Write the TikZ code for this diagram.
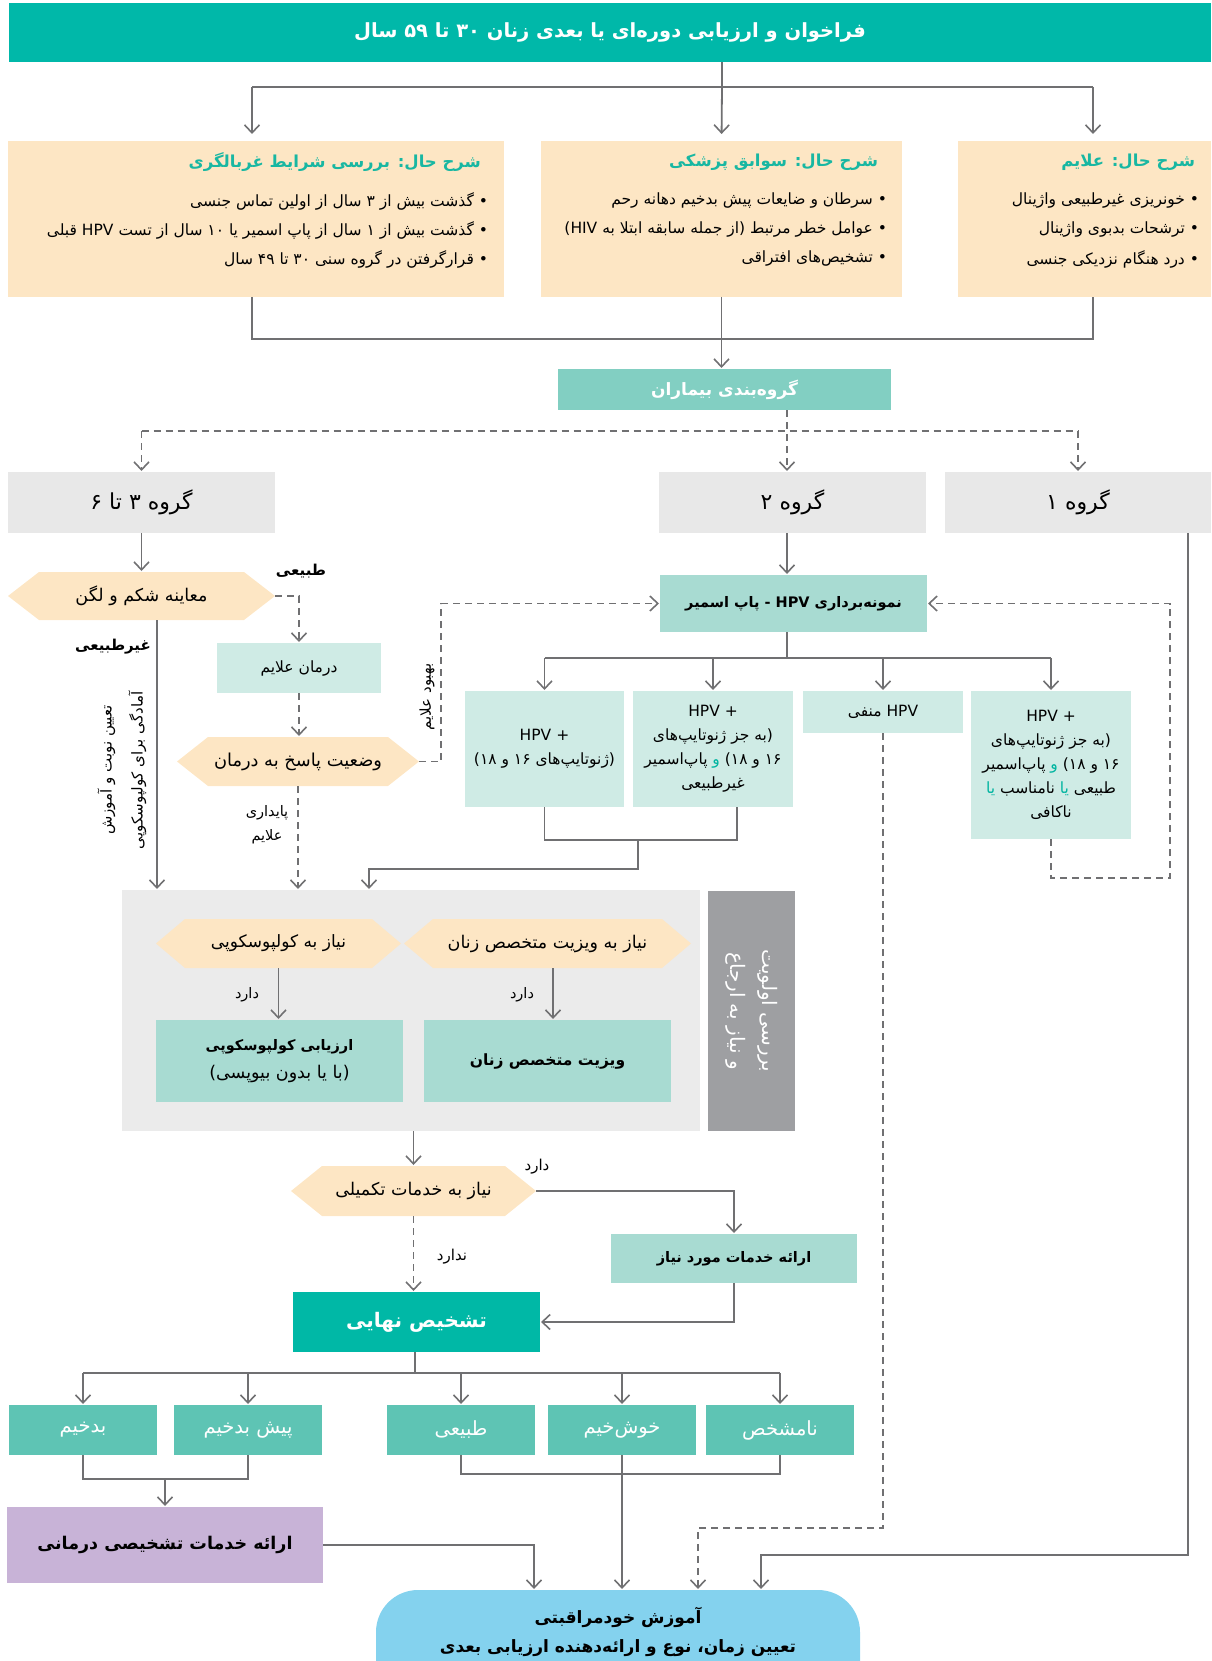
\documentclass[tikz,border=0pt]{standalone}
\usepackage{fontspec}
\usetikzlibrary{arrows.meta}
\newfontfamily\fa[Script=Arabic]{DejaVu Sans}
\TeXXeTstate=1
\newcommand\R[1]{\beginR#1\endR}
\newcommand\sz[2]{\fontsize{#1}{#2}\selectfont}
\definecolor{lc}{RGB}{112,112,114}
\definecolor{bannerc}{RGB}{0,184,169}
\definecolor{orangec}{RGB}{253,230,196}
\definecolor{titlec}{RGB}{24,183,162}
\definecolor{grpc}{RGB}{130,207,194}
\definecolor{grayc}{RGB}{232,232,232}
\definecolor{lightc}{RGB}{207,235,229}
\definecolor{midc}{RGB}{168,219,210}
\definecolor{regc}{RGB}{235,235,235}
\definecolor{labc}{RGB}{158,159,162}
\definecolor{diagc}{RGB}{0,184,166}
\definecolor{outc}{RGB}{94,196,180}
\definecolor{purc}{RGB}{200,179,215}
\definecolor{finc}{RGB}{132,210,238}
\definecolor{hl}{RGB}{0,180,160}
% coloured word kept in its own L segment so the colour specials keep their order
\newcommand\tw[1]{\beginL\textcolor{hl}{#1}\endL{}}
\newcommand\bnode[7]{\node[#2,minimum width=#5pt,minimum height=#6pt] (#1) at (#3,#4) {#7};}
\newcommand\hexn[8]{%
 \fill[orangec] (#2-#4/2,#3) -- (#2-#4/2+#6,#3-#5/2) -- (#2+#4/2-#6,#3-#5/2) -- (#2+#4/2,#3) -- (#2+#4/2-#6,#3+#5/2) -- (#2-#4/2+#6,#3+#5/2) -- cycle;
 \node[base,font=\fa\sz{#7}{20},minimum width=#4pt,minimum height=#5pt] (#1) at (#2,#3) {#8};}
\begin{document}
\begin{tikzpicture}[x=1pt,y=-1pt,
 base/.style={inner sep=0pt,outer sep=0pt,font=\fa},
 line/.style={draw=lc,line width=1.8pt},
 arr/.style={line,-{Straight Barb[length=8pt,width=15pt,line width=1.6pt]},shorten >=1pt},
 dline/.style={line,dash pattern=on 7pt off 5pt},
 darr/.style={arr,dash pattern=on 7pt off 5pt},
 bul/.style={base,anchor=east,font=\fa\sz{15.5}{18}},
 htitle/.style={base,anchor=east,text=titlec,font=\fa\bfseries\sz{16.5}{20}},
 lbl/.style={base,font=\fa\sz{15}{18}},
 rbox/.style={base,fill=lightc,align=center,font=\fa\sz{15.5}{24}},
 obox/.style={base,fill=outc,text=white,font=\fa\sz{19.5}{22}}]
\useasboundingbox (0,0) rectangle (1211,1661);
\clip (0,0) rectangle (1211,1661);

% banner
\bnode{banner}{base,fill=bannerc,text=white,font=\fa\bfseries\sz{19.5}{23}}{610}{32.5}{1202}{59}{\R{فراخوان و ارزیابی دوره‌ای یا بعدی زنان ۳۰ تا ۵۹ سال}}

% history boxes
\bnode{hist1}{base,fill=orangec}{256}{219}{496}{156}{}
\bnode{hist2}{base,fill=orangec}{721.5}{219}{361}{156}{}
\bnode{hist3}{base,fill=orangec}{1084.5}{219}{253}{156}{}
\node[htitle] (h1t) at (481,162) {\R{شرح حال: بررسی شرایط غربالگری}};
\node[bul] (h1a) at (488,201) {\R{• گذشت بیش از ۳ سال از اولین تماس جنسی}};
\node[bul] (h1b) at (488,230) {\R{• گذشت بیش از ۱ سال از پاپ اسمیر یا ۱۰ سال از تست HPV قبلی}};
\node[bul] (h1c) at (488,259) {\R{• قرارگرفتن در گروه سنی ۳۰ تا ۴۹ سال}};
\node[htitle] (h2t) at (878,162) {\R{شرح حال: سوابق پزشکی}};
\node[bul] (h2a) at (887,201) {\R{• سرطان و ضایعات پیش بدخیم دهانه رحم}};
\node[bul] (h2b) at (887,230) {\R{• عوامل خطر مرتبط (از جمله سابقه ابتلا به (HIV}};
\node[bul] (h2c) at (887,259) {\R{• تشخیص‌های افتراقی}};
\node[htitle] (h3t) at (1195,162) {\R{شرح حال: علایم}};
\node[bul] (h3a) at (1199,201) {\R{• خونریزی غیرطبیعی واژینال}};
\node[bul] (h3b) at (1199,230) {\R{• ترشحات بدبوی واژینال}};
\node[bul] (h3c) at (1199,259) {\R{• درد هنگام نزدیکی جنسی}};

% grouping
\bnode{grp}{base,fill=grpc,text=white,font=\fa\bfseries\sz{17}{20}}{724.5}{389.5}{333}{41}{\R{گروه‌بندی بیماران}}
\bnode{g36}{base,fill=grayc,font=\fa\sz{22}{24}}{141.5}{502.5}{267}{61}{\R{گروه ۳ تا ۶}}
\bnode{g2}{base,fill=grayc,font=\fa\sz{22}{24}}{792.5}{502.5}{267}{61}{\R{گروه ۲}}
\bnode{g1}{base,fill=grayc,font=\fa\sz{22}{24}}{1078}{502.5}{266}{61}{\R{گروه ۱}}

% left branch
\hexn{exam}{141.5}{596}{267}{48}{31}{17.5}{\R{معاینه شکم و لگن}}
\bnode{treat}{base,fill=lightc,font=\fa\sz{15.5}{18}}{299}{668}{164}{50}{\R{درمان علایم}}
\hexn{resp}{298}{761.5}{242}{49}{31}{17.8}{\R{وضعیت پاسخ به درمان}}

% HPV
\bnode{hpv}{base,fill=midc,font=\fa\bfseries\sz{14.5}{18}}{793.5}{603.5}{267}{57}{\R{نمونه‌برداری HPV - پاپ اسمیر}}
\bnode{r1}{rbox}{544.5}{749}{159}{116}{HPV +\\\R{(ژنوتایپ‌های ۱۶ و ۱۸)}}
\bnode{r2}{rbox}{713}{749}{160}{116}{HPV +\\\R{(به جز ژنوتایپ‌های}\\\R{۱۶ و ۱۸) \tw{و} پاپ‌اسمیر}\\\R{غیرطبیعی}}
\bnode{r3}{rbox}{883}{712}{160}{42}{\R{HPV منفی}}
\bnode{r4}{rbox}{1051}{765}{160}{148}{HPV +\\\R{(به جز ژنوتایپ‌های}\\\R{۱۶ و ۱۸) \tw{و} پاپ‌اسمیر}\\\R{طبیعی \tw{یا} نامناسب \tw{یا}}\\\R{ناکافی}}

% referral region
\bnode{region}{base,fill=regc}{411}{1010.5}{578}{241}{}
\node[base,fill=labc,rotate=-90,minimum width=240pt,minimum height=87pt,text=white,align=center,font=\fa\sz{20}{32}] (label) at (751.5,1011) {\R{بررسی اولویت}\\\R{و نیاز به ارجاع}};
\hexn{hcol}{278.5}{943.5}{245}{49}{29}{17}{\R{نیاز به کولپوسکوپی}}
\hexn{hgyn}{547.5}{943.5}{287}{49}{29}{17.5}{\R{نیاز به ویزیت متخصص زنان}}
\bnode{colpo}{base,fill=midc,align=center,font=\fa\sz{17.5}{28}}{279.5}{1061}{247}{82}{{\bfseries\sz{14.5}{28}\R{ارزیابی کولپوسکوپی}}\\\R{(با یا بدون بیوپسی)}}
\bnode{gyn}{base,fill=midc,font=\fa\bfseries\sz{15.5}{19}}{547.5}{1061}{247}{82}{\R{ویزیت متخصص زنان}}

% supplementary
\hexn{suppl}{413.5}{1191}{245}{50}{31}{17.5}{\R{نیاز به خدمات تکمیلی}}
\bnode{serv}{base,fill=midc,font=\fa\bfseries\sz{14.5}{19}}{734}{1258.5}{246}{49}{\R{ارائه خدمات مورد نیاز}}
\bnode{diag}{base,fill=diagc,text=white,font=\fa\bfseries\sz{20}{26}}{416.5}{1322}{247}{60}{\R{تشخیص نهایی}}

% outcomes
\bnode{o1}{obox}{83}{1430}{148}{50}{\R{بدخیم}}
\bnode{o2}{obox}{248}{1430}{148}{50}{\R{پیش بدخیم}}
\bnode{o3}{obox}{461}{1430}{148}{50}{\R{طبیعی}}
\bnode{o4}{obox}{622}{1430}{148}{50}{\R{خوش‌خیم}}
\bnode{o5}{obox}{780}{1430}{148}{50}{\R{نامشخص}}
\bnode{purple}{base,fill=purc,font=\fa\bfseries\sz{17.5}{22}}{165}{1545}{316}{76}{\R{ارائه خدمات تشخیصی درمانی}}
\node[base,fill=finc,rounded corners=42pt,minimum width=484pt,minimum height=140pt,anchor=north] (final) at (618,1590) {};
\node[base,align=center,font=\fa\bfseries\sz{17}{29}] (finaltxt) at (618,1632) {\R{آموزش خودمراقبتی}\\\R{تعیین زمان، نوع و ارائه‌دهنده ارزیابی بعدی}};

% ---------- connectors
\coordinate (jA) at (722,87);
\coordinate (h1n) at ([xshift=-4pt]hist1.north);
\coordinate (h3n) at ([xshift=8.5pt]hist3.north);
\coordinate (h1s) at ([xshift=-4pt]hist1.south);
\coordinate (h3s) at ([xshift=8.5pt]hist3.south);
\draw[line] (banner.south -| jA) -- (jA);
\draw[line] (jA -| h1n) -- (jA -| h3n);
\draw[arr,shorten >=7pt] (jA -| h1n) -- (h1n);
\draw[arr,shorten >=7pt] (jA) -- (hist2.north);
\draw[arr,shorten >=7pt] (jA -| h3n) -- (h3n);
\coordinate (jB) at (722,339);
\draw[line] (h1s) -- (h1s |- jB) -- (h3s |- jB) -- (h3s);
\draw[arr] (hist2.south) -- (hist2.south |- grp.north);

\coordinate (jC) at (787,431);
\draw[darr] (grp.south -| jC) -- (g2.north -| jC);
\draw[dline] (jC -| g36.north) -- (jC -| g1.north);
\draw[darr] (jC -| g36.north) -- (g36.north);
\draw[darr] (jC -| g1.north) -- (g1.north);

\draw[arr] (g36.south) -- (exam.north);
\draw[darr] (exam.east) -| (treat.north);
\draw[darr] (treat.south) -- (treat.south |- resp.north);
\coordinate (jH) at (441,700);
\draw[darr] (resp.east) -- (resp.east -| jH) |- (hpv.west);
\draw[darr] (resp.south) -- (resp.south |- region.north);
\coordinate (xEx) at (157,0);
\draw[arr] (exam.south -| xEx) -- (region.north -| xEx);

\draw[arr] (g2.south -| jC) -- (hpv.north -| jC);
\coordinate (jD) at (787,658);
\draw[line] (hpv.south -| jD) -- (jD);
\draw[line] (jD -| r1.north) -- (jD -| r4.north);
\foreach \n in {r1,r2,r3,r4} \draw[arr] (jD -| \n.north) -- (\n.north);
\coordinate (r2s) at ([xshift=24pt]r2.south);
\coordinate (jE) at (638,840);
\draw[line] (r1.south) |- (jE) -| (r2s);
\coordinate (xE) at (369,869);
\draw[arr] (jE) |- (xE) -- (region.north -| xE);
\coordinate (jF) at (698,1528);
\draw[darr] (r3.south) |- (jF) -- (jF |- final.north);
\coordinate (jG) at (1170,878);
\draw[darr] (r4.south) |- (jG) |- (hpv.east);
\coordinate (jI) at (1188,1555);
\coordinate (jI2) at (761,1555);
\draw[arr] (g1.south -| jI) -- (jI) -- (jI2) -- (jI2 |- final.north);

\draw[arr] (region.south -| suppl.north) -- (suppl.north);
\draw[arr] (hcol.south) -- (colpo.north -| hcol.south);
\coordinate (xg) at (553,0);
\draw[arr] (hgyn.south -| xg) -- (gyn.north -| xg);
\draw[arr] (suppl.east) -| (serv.north);
\draw[darr] (suppl.south) -- (diag.north -| suppl.south);
\draw[arr] (serv.south) |- (diag.east);
\coordinate (jJ) at (415,1373);
\draw[line] (diag.south -| jJ) -- (jJ);
\draw[line] (jJ -| o1.north) -- (jJ -| o5.north);
\foreach \n in {o1,o2,o3,o4,o5} \draw[arr] (jJ -| \n.north) -- (\n.north);
\coordinate (jK) at (165,1479);
\draw[line] (o1.south) |- (jK) -| (o2.south);
\draw[arr] (jK) -- (purple.north);
\coordinate (jM) at (620,1474);
\draw[line] (o3.south) |- (jM) -| (o5.south);
\draw[arr] (o4.south) -- (o4.south |- final.north);
\coordinate (jL) at (534,1545);
\draw[arr] (purple.east) -- (jL) -- (jL |- final.north);

% ---------- labels
\node[lbl,font=\fa\bfseries\sz{15}{18}] (lnorm) at (301,571) {\R{طبیعی}};
\node[lbl,font=\fa\bfseries\sz{15}{18}] (labn) at (113,647) {\R{غیرطبیعی}};
\node[lbl,rotate=90,align=center,font=\fa\sz{15}{31}] (lrot) at (122,770) {\R{تعیین نوبت و آموزش}\\\R{آمادگی برای کولپوسکوپی}};
\node[lbl,rotate=90,font=\fa\sz{15}{17}] (limp) at (427,697) {\R{بهبود علایم}};
\node[lbl,align=center,font=\fa\sz{14.5}{24}] (lpers) at (267,825) {\R{پایداری}\\\R{علایم}};
\node[lbl,font=\fa\sz{14.5}{17}] (lhas1) at (247,995) {\R{دارد}};
\node[lbl,font=\fa\sz{14.5}{17}] (lhas2) at (522,995) {\R{دارد}};
\node[lbl] (lhas3) at (537,1167) {\R{دارد}};
\node[lbl] (lno) at (452,1257) {\R{ندارد}};
\end{tikzpicture}
\end{document}
